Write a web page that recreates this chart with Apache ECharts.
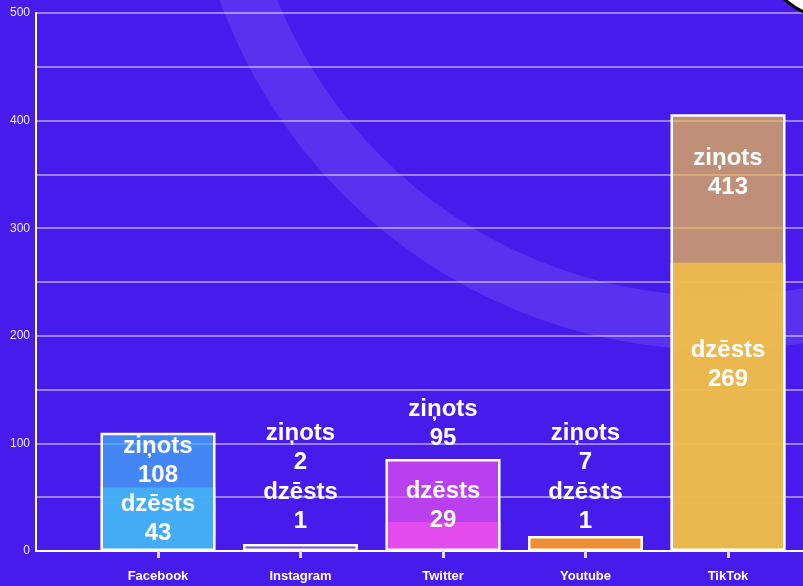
<!DOCTYPE html>
<html>
<head>
<meta charset="utf-8">
<script src="https://cdn.jsdelivr.net/npm/echarts@6/dist/echarts.min.js"></script>
<style>
html,body{margin:0;padding:0;background:#461bec;}
#chart{width:803px;height:586px;}
</style>
</head>
<body>
<div id="chart"></div>
<script>
// ---- data ----
const categories = ['Facebook', 'Instagram', 'Twitter', 'Youtube', 'TikTok'];
const zinotsLabels = [108, 2, 95, 7, 413];     // "ziņots" numbers printed on the chart
const dzestsLabels = [43, 1, 29, 1, 269];      // "dzēsts" numbers printed on the chart
const zinotsBars = [110, 6.5, 85.5, 14, 406];  // bar heights as drawn
const dzestsBars = [59, 4, 27, 14, 268];       // bar heights as drawn
const yTickLabels = [0, 100, 200, 300, 400, 500];

// ---- style ----
const baseColors = ['#44b0f6', '#7c4bd8', '#e84dee', '#f49130', '#efbd4b'];
const zLabelDy = [57, -67, -6, -59, 88];
const dLabelDy = [60, -11, 13, 0, 131];
const FONT = 'Liberation Sans, Arial, sans-serif';

function rgba(hex, a) {
  const n = parseInt(hex.slice(1), 16);
  return 'rgba(' + ((n >> 16) & 255) + ',' + ((n >> 8) & 255) + ',' + (n & 255) + ',' + a + ')';
}

const labelBase = {
  show: true,
  position: 'top',
  distance: 0,
  color: '#ffffff',
  fontFamily: FONT,
  fontWeight: 'bold',
  fontSize: 24,
  lineHeight: 29,
  align: 'center'
};

const zinotsData = zinotsBars.map((v, i) => ({
  value: v,
  itemStyle: { color: rgba(baseColors[i], 0.72) },
  label: { offset: [0, zLabelDy[i]] }
}));
const dzestsData = dzestsBars.map((v, i) => ({
  value: v,
  itemStyle: { color: rgba(baseColors[i], 0.9) },
  label: { offset: [0, dLabelDy[i]] }
}));

const chart = echarts.init(document.getElementById('chart'), null, { renderer: 'canvas' });
chart.setOption({
  backgroundColor: '#461bec',
  animation: false,
  graphic: [
    {
      type: 'ring',
      shape: { cx: 718, cy: -180, r: 530, r0: 476 },
      style: { fill: 'rgba(255,255,255,0.1)' },
      z: -1,
      silent: true
    },
    {
      type: 'circle',
      shape: { cx: 830, cy: -50, r: 67 },
      style: { fill: '#ffffff', stroke: '#000000', lineWidth: 3 },
      z: 100,
      silent: true
    }
  ],
  grid: [
    { left: 36, right: 0, top: 13, bottom: 35 },
    { left: 86.75, right: 3.75, top: 13, bottom: 35 }
  ],
  xAxis: [
    {
      gridIndex: 0, type: 'value', min: 0, max: 1,
      axisLine: { show: true, lineStyle: { color: '#ffffff', width: 2 } },
      axisTick: { show: false }, axisLabel: { show: false }, splitLine: { show: false }
    },
    {
      gridIndex: 1, type: 'category', data: categories,
      axisLine: { show: false },
      axisTick: { show: true, alignWithLabel: true, length: 7, lineStyle: { color: '#dddddd', width: 3 } },
      axisLabel: { color: '#ffffff', fontFamily: FONT, fontWeight: 'bold', fontSize: 13, margin: 19 },
      splitLine: { show: false }
    }
  ],
  yAxis: [
    {
      gridIndex: 0, type: 'value', min: 0, max: 500, interval: 50,
      axisLine: { show: true, lineStyle: { color: '#ffffff', width: 2 } },
      axisTick: { show: false },
      axisLabel: {
        color: 'rgba(255,255,255,0.9)', fontFamily: FONT, fontSize: 12, margin: 6,
        formatter: v => (yTickLabels.indexOf(v) >= 0 ? String(v) : '')
      },
      splitLine: { show: true, lineStyle: { color: 'rgba(255,255,255,0.45)', width: 2 } }
    },
    {
      gridIndex: 1, type: 'value', min: 0, max: 500, show: false
    }
  ],
  series: [
    {
      name: 'dzēsts', type: 'bar', xAxisIndex: 1, yAxisIndex: 1,
      barWidth: 115, barGap: '-100%',
      data: dzestsData,
      label: Object.assign({}, labelBase, {
        formatter: p => 'dzēsts\n' + dzestsLabels[p.dataIndex]
      })
    },
    {
      name: 'ziņots', type: 'bar', xAxisIndex: 1, yAxisIndex: 1,
      barWidth: 115, barGap: '-100%',
      data: zinotsData,
      itemStyle: { borderColor: '#ffffff', borderWidth: 2.5 },
      label: Object.assign({}, labelBase, {
        formatter: p => 'ziņots\n' + zinotsLabels[p.dataIndex]
      })
    }
  ]
});
</script>
</body>
</html>
